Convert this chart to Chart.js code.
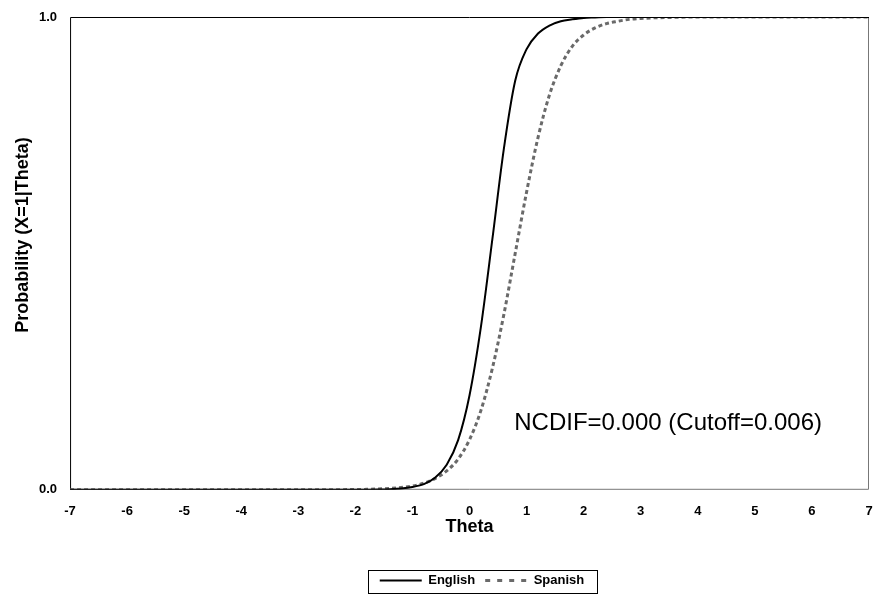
<!DOCTYPE html>
<html>
<head>
<meta charset="utf-8">
<script src="https://cdn.jsdelivr.net/npm/chart.js@4.4.0/dist/chart.umd.min.js"></script>
<style>
  html, body { margin: 0; padding: 0; background: #fff; }
  #wrap { width: 880px; height: 599px; }
</style>
</head>
<body>
<div id="wrap"><canvas id="myChart" width="880" height="599"></canvas></div>
<script>
// valores
const theta = [-7, -6, -5, -4, -3, -2, -1.8, -1.6, -1.4, -1.2, -1.0, -0.8, -0.6, -0.4, -0.2,
    0.0, 0.2, 0.4, 0.6, 0.8, 1.0, 1.2, 1.4, 1.6, 1.8, 2.0, 2.2, 2.4, 2.6, 2.8, 3.0, 3.5, 4, 5, 6, 7];
const english = [0, 0, 0, 0, 0, 0.0001, 0.0003, 0.0006, 0.0013, 0.0028, 0.006, 0.012, 0.026, 0.053, 0.105,
    0.20, 0.345, 0.53, 0.72, 0.865, 0.932, 0.965, 0.982, 0.991, 0.995, 0.998, 0.999, 1, 1, 1, 1, 1, 1, 1, 1, 1];
const spanish = [0, 0, 0, 0, 0, 0.0006, 0.001, 0.0017, 0.003, 0.005, 0.008, 0.014, 0.024, 0.040, 0.065,
    0.106, 0.168, 0.257, 0.37, 0.50, 0.63, 0.745, 0.835, 0.897, 0.938, 0.962, 0.977, 0.986, 0.991, 0.995, 0.997, 0.999, 1, 1, 1, 1];
const xTicks = [-7, -6, -5, -4, -3, -2, -1, 0, 1, 2, 3, 4, 5, 6, 7];
const yTicks = [0, 1];
const noteText = 'NCDIF=0.000 (Cutoff=0.006)';
const yTitle = 'Probability (X=1|Theta)';

const font = 'Arial, "Liberation Sans", sans-serif';

// marco, titulo Y, texto NCDIF y recuadro de leyenda
const extras = {
    id: 'extras',
    afterLayout(chart) {
        // centrar la leyenda como en el original
        const l = chart.legend;
        const dx = 482 - (l.left + l.right) / 2;
        l.left += dx;
        l.right += dx;
    },
    beforeDatasetsDraw(chart) {
        const a = chart.chartArea;
        const c = chart.ctx;
        c.save();
        c.strokeStyle = '#000';
        c.lineWidth = 1;
        c.beginPath();
        c.moveTo(a.left + 0.5, a.bottom);
        c.lineTo(a.left + 0.5, a.top + 0.5);
        c.lineTo(a.right - 0.5, a.top + 0.5);
        c.stroke();
        c.strokeStyle = '#777';
        c.beginPath();
        c.moveTo(a.right - 0.5, a.top);
        c.lineTo(a.right - 0.5, a.bottom - 0.5);
        c.lineTo(a.left, a.bottom - 0.5);
        c.stroke();
        c.restore();
    },
    afterDraw(chart) {
        const c = chart.ctx;
        const xs = chart.scales.x, ys = chart.scales.y;
        c.save();
        c.fillStyle = '#000';
        c.textAlign = 'center';
        c.textBaseline = 'middle';
        c.font = '24px ' + font;
        c.fillText(noteText, xs.getPixelForValue(3.48), ys.getPixelForValue(0.14));
        // titulo del eje Y
        c.save();
        c.translate(23, 235);
        c.rotate(-Math.PI / 2);
        c.font = 'bold 18px ' + font;
        c.fillText(yTitle, 0, 0);
        c.restore();
        // recuadro de la leyenda
        const l = chart.legend;
        c.strokeStyle = '#000';
        c.lineWidth = 1;
        const w = 229, h = 23;
        const cx = (l.left + l.right) / 2;
        c.strokeRect(Math.round(cx - w / 2) + 0.5, 570.5, w, h);
        c.restore();
    }
};

const ctx = document.getElementById('myChart').getContext('2d');
const myChart = new Chart(ctx, {
    type: 'line',
    data: {
        datasets: [{
            label: 'English',
            data: theta.map((t, i) => ({ x: t, y: english[i] })),
            borderColor: '#000',
            borderWidth: 2,
            pointRadius: 0,
            cubicInterpolationMode: 'monotone'
        }, {
            label: 'Spanish',
            data: theta.map((t, i) => ({ x: t, y: spanish[i] })),
            borderColor: '#6a6a6a',
            borderWidth: 3,
            borderDash: [4, 3],
            pointRadius: 0,
            cubicInterpolationMode: 'monotone'
        }]
    },
    options: {
        responsive: false,
        animation: false,
        layout: { padding: { top: 17, right: 11, left: 36, bottom: 2 } },
        scales: {
            x: {
                type: 'linear',
                min: -7,
                max: 7,
                afterBuildTicks: (s) => { s.ticks = xTicks.map(v => ({ value: v })); },
                grid: { display: false, drawTicks: true, tickLength: 11 },
                border: { display: false },
                ticks: {
                    padding: 3,
                    color: '#000',
                    font: { family: font, size: 13, weight: 'bold' }
                },
                title: {
                    display: true,
                    text: 'Theta',
                    color: '#000',
                    padding: { top: -6, bottom: 26 },
                    font: { family: font, size: 18, weight: 'bold' }
                }
            },
            y: {
                min: 0,
                max: 1,
                afterBuildTicks: (s) => { s.ticks = yTicks.map(v => ({ value: v })); },
                grid: { display: false, drawTicks: true, tickLength: 10 },
                border: { display: false },
                ticks: {
                    padding: 3,
                    color: '#000',
                    font: { family: font, size: 13, weight: 'bold' },
                    callback: (v) => v.toFixed(1)
                }
            }
        },
        plugins: {
            legend: {
                position: 'bottom',
                labels: {
                    usePointStyle: true,
                    pointStyle: 'line',
                    pointStyleWidth: 42,
                    padding: 10,
                    color: '#000',
                    font: { family: font, size: 13, weight: 'bold' },
                    generateLabels: (chart) => {
                        const items = Chart.defaults.plugins.legend.labels.generateLabels(chart);
                        items[0].lineWidth = 2;
                        items[0].strokeStyle = '#000';
                        items[1].lineWidth = 3;
                        items[1].strokeStyle = '#6a6a6a';
                        items[1].lineDash = [5, 7];
                        return items;
                    }
                }
            },
            tooltip: { enabled: false }
        }
    },
    plugins: [extras]
});
</script>
</body>
</html>
